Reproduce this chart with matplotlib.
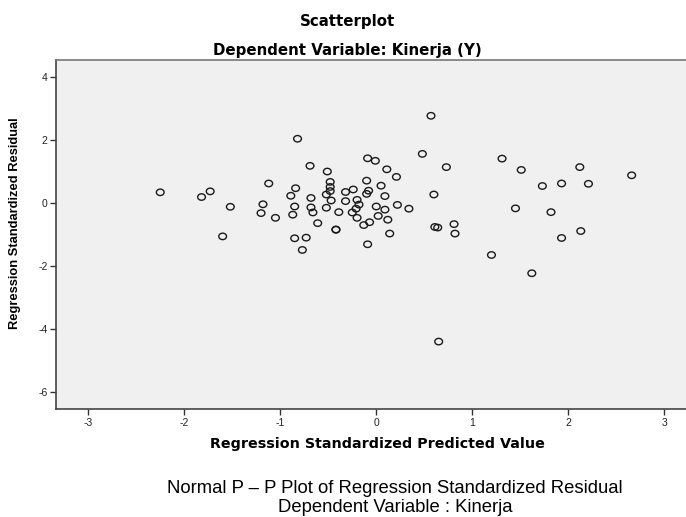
import matplotlib
matplotlib.use("Agg")
import matplotlib.pyplot as plt
from matplotlib.path import Path

# regression standardized predicted value (x) and residual (y)
pred = [-2.25, -1.82, -1.73, -1.52, -1.60, -1.12, -1.18, -1.20, -1.05, -0.82,
        -0.84, -0.89, -0.85, -0.87, -0.85, -0.73, -0.77, -0.69, -0.68, -0.68,
        -0.66, -0.61, -0.51, -0.48, -0.48, -0.48, -0.52, -0.47, -0.52, -0.42,
        -0.42, -0.39, -0.32, -0.32,
        0.57, 0.48, -0.09, -0.01, 0.11, 0.21, 0.73, 1.31, 1.51, 2.12,
        2.66, 1.73, 1.93, 2.21, 1.45, 1.82, 1.93, 2.13, 1.20, 1.62,
        0.60, 0.61, 0.64, 0.81, 0.82, 0.34, 0.22, 0.14, 0.12, 0.09,
        0.09, 0.05, 0.00, 0.02, -0.07, -0.13, -0.09, -0.10, -0.08, -0.10,
        -0.24, -0.20, -0.18, -0.21, -0.25, -0.20, 0.65]
resid = [0.35, 0.20, 0.38, -0.11, -1.05, 0.63, -0.03, -0.31, -0.46, 2.05,
         0.48, 0.24, -0.10, -0.36, -1.11, -1.09, -1.48, 1.19, 0.17, -0.13,
         -0.29, -0.63, 1.01, 0.68, 0.52, 0.39, 0.28, 0.09, -0.14, -0.83,
         -0.84, -0.28, 0.36, 0.07,
         2.78, 1.57, 1.43, 1.35, 1.08, 0.84, 1.15, 1.42, 1.06, 1.15,
         0.89, 0.55, 0.63, 0.62, -0.16, -0.28, -1.10, -0.88, -1.64, -2.22,
         0.28, -0.75, -0.77, -0.66, -0.96, -0.17, -0.05, -0.96, -0.52, -0.20,
         0.23, 0.56, -0.10, -0.40, -0.60, -0.69, -1.30, 0.72, 0.40, 0.30,
         0.44, 0.11, -0.04, -0.17, -0.29, -0.46, -4.39]

xticks = [-3, -2, -1, 0, 1, 2, 3]
yticks = [-6, -4, -2, 0, 2, 4]


def oval_marker(stretch=1.2):
    # the picture is a bit wider than tall, so circles come out oval
    circ = Path.unit_circle()
    verts = circ.vertices.copy()
    verts[:, 0] *= stretch
    return Path(verts, circ.codes)


def main():
    plt.rcParams['font.family'] = ['Liberation Sans', 'DejaVu Sans']
    plt.rcParams['axes.unicode_minus'] = False
    fig = plt.figure(figsize=(6.86, 5.17), dpi=100)
    ax = fig.add_axes([0.0816, 0.2083, 0.9184, 0.6756])
    ax.set_facecolor('#f0f0f0')

    ax.scatter(pred, resid, s=31, marker=oval_marker(), facecolors='none',
               edgecolors='#1a1a1a', linewidths=1.0, zorder=3)

    ax.set_xlim(-3.336, 3.226)
    ax.set_ylim(-6.54, 4.55)
    ax.set_xticks(xticks)
    ax.set_yticks(yticks)
    ax.tick_params(direction='out', length=4, width=1, color='#333333',
                   labelsize=7.5, labelcolor='#222222', pad=2)

    for side in ['left', 'bottom']:
        ax.spines[side].set_color('#444444')
        ax.spines[side].set_linewidth(1.2)
    ax.spines['top'].set_color('#777777')
    ax.spines['top'].set_linewidth(1.2)
    ax.spines['right'].set_visible(False)

    wide = ['DejaVu Sans']
    fig.text(0.507, 0.959, "Scatterplot", ha='center', va='center',
             fontsize=10.8, fontweight='bold', family=wide)
    fig.text(0.507, 0.903, "Dependent Variable: Kinerja (Y)", ha='center',
             va='center', fontsize=10.8, fontweight='bold', family=wide)
    fig.text(0.022, 0.568, "Regression Standardized Residual", rotation=90,
             ha='center', va='center', fontsize=9.3, fontweight='bold')
    fig.text(0.550, 0.141, "Regression Standardized Predicted Value",
             ha='center', va='center', fontsize=10.3, fontweight='bold',
             family=wide)

    fig.text(0.576, 0.056, "Normal P \u2013 P Plot of Regression Standardized Residual",
             ha='center', va='center', fontsize=13.3)
    fig.text(0.576, 0.019, "Dependent Variable : Kinerja",
             ha='center', va='center', fontsize=13.3)

    fig.savefig("out.png", dpi=100)


if __name__ == "__main__":
    main()
